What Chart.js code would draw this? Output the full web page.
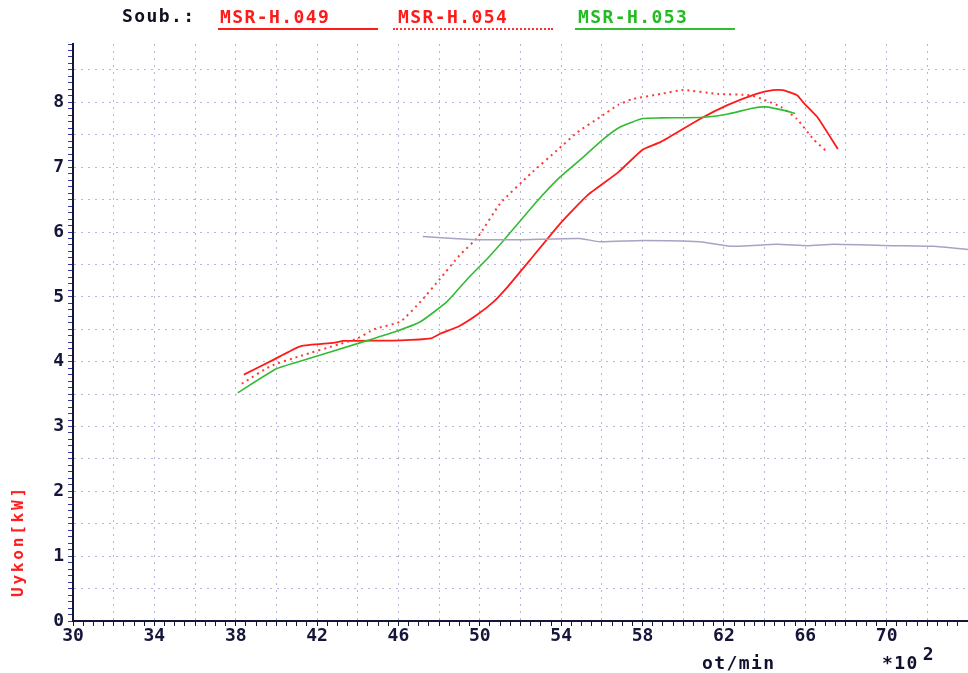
<!DOCTYPE html>
<html>
<head>
<meta charset="utf-8">
<script src="https://cdn.jsdelivr.net/npm/chart.js@4"></script>
<style>
  body { margin: 0; background: #fff; }
  #wrap { position: relative; width: 968px; height: 673px; overflow: hidden; }
  canvas { position: absolute; left: 0; top: 0; }
  .lbl { position: absolute; font-family: "DejaVu Sans Mono", monospace; font-weight: bold; font-size: 18px; letter-spacing: 1.4px; white-space: nowrap; line-height: 1; }
  .key { position: absolute; top: 28px; height: 0; }
</style>
</head>
<body>
<div id="wrap">
  <canvas id="powerChart" width="968" height="673"></canvas>
  <!-- legenda nahore -->
  <div class="lbl" style="left:122px; top:7px; color:#101020;">Soub.:</div>
  <div class="lbl" style="left:220px; top:8px; color:#ff1a1a;">MSR-H.049</div>
  <div class="key" style="left:218px; width:160px; border-top:2px solid #ff1a1a;"></div>
  <div class="lbl" style="left:398px; top:8px; color:#ff1a1a;">MSR-H.054</div>
  <div class="key" style="left:393px; width:160px; border-top:2px dotted #ff3030;"></div>
  <div class="lbl" style="left:578px; top:8px; color:#22bb22;">MSR-H.053</div>
  <div class="key" style="left:575px; width:160px; border-top:2px solid #33bb33;"></div>
  <!-- popisky os -->
  <div class="lbl" style="left:702px; top:654px; color:#101030;">ot/min</div>
  <div class="lbl" style="left:882px; top:654px; color:#101030;">*10<span style="position:relative; top:-9px; margin-left:4px;">2</span></div>
  <div class="lbl" style="left:18px; top:541px; color:#ff1a1a; font-size:16px; letter-spacing:2.8px; transform: translate(-50%, -50%) rotate(-90deg);">Uykon[kW]</div>
</div>
<script>
// otacky (x100 ot/min) a vykon (kW)
const rpm049 = [38.4, 39.8, 41.2, 42.8, 43.3, 46.1, 47.6, 48.05, 49.0, 49.9, 50.7, 51.3, 52.5, 53.95, 55.3, 56.8, 58.0, 58.9, 60.8, 62.2, 63.6, 64.4, 64.9, 65.6, 65.9, 66.6, 67.6];
const kw049  = [3.80, 4.02, 4.24, 4.29, 4.32, 4.33, 4.36, 4.43, 4.55, 4.73, 4.93, 5.13, 5.58, 6.13, 6.57, 6.92, 7.27, 7.39, 7.74, 7.96, 8.13, 8.19, 8.19, 8.11, 8.00, 7.77, 7.28];

const rpm054 = [38.3, 39.7, 41.2, 43.1, 44.0, 44.8, 46.1, 47.1, 48.05, 49.0, 49.9, 51.0, 52.5, 53.8, 54.8, 55.9, 56.8, 57.5, 58.9, 60.0, 61.7, 63.3, 63.9, 64.8, 65.6, 66.4, 67.1];
const kw054  = [3.66, 3.93, 4.09, 4.27, 4.36, 4.50, 4.62, 4.93, 5.28, 5.64, 5.92, 6.44, 6.90, 7.26, 7.54, 7.77, 7.96, 8.05, 8.13, 8.19, 8.13, 8.11, 8.05, 7.93, 7.74, 7.43, 7.23];

const rpm053 = [38.1, 40.0, 41.2, 44.1, 45.9, 47.1, 48.4, 49.4, 50.4, 51.2, 52.8, 53.95, 55.1, 56.1, 56.9, 58.0, 58.9, 61.0, 62.2, 63.4, 64.1, 64.9, 65.5];
const kw053  = [3.52, 3.89, 4.01, 4.29, 4.47, 4.62, 4.93, 5.28, 5.60, 5.88, 6.47, 6.85, 7.16, 7.44, 7.62, 7.75, 7.76, 7.77, 7.82, 7.91, 7.93, 7.88, 7.83];

// sedy prubeh bez legendy
const rpmGray = [47.2, 48.7, 50.0, 52.0, 54.9, 55.9, 58.0, 60.8, 62.3, 64.6, 66.1, 67.4, 70.3, 72.3, 74.0];
const kwGray  = [5.93, 5.90, 5.88, 5.88, 5.90, 5.85, 5.87, 5.85, 5.78, 5.81, 5.79, 5.81, 5.79, 5.78, 5.73];

const xMin = 30, xMax = 74, yMin = 0, yMax = 8.9;

function pts(xs, ys) {
    return xs.map((x, i) => ({ x: x, y: ys[i] }));
}

const gridColor = '#b8b4dc';
const axisColor = '#15153a';
const tickFont = { family: 'DejaVu Sans Mono', weight: 'bold', size: 18 };

const ctx = document.getElementById('powerChart').getContext('2d');
let powerChart = new Chart(ctx, {
    type: 'line',
    data: {
        datasets: [
            { label: 'gray', data: pts(rpmGray, kwGray), borderColor: '#a8a2c4', borderWidth: 1.5 },
            { label: 'MSR-H.053', data: pts(rpm053, kw053), borderColor: '#33bb33', borderWidth: 1.6 },
            { label: 'MSR-H.054', data: pts(rpm054, kw054), borderColor: '#ff3838', borderWidth: 2, borderDash: [2, 4] },
            { label: 'MSR-H.049', data: pts(rpm049, kw049), borderColor: '#ff1a1a', borderWidth: 1.8 }
        ]
    },
    options: {
        responsive: false,
        animation: false,
        layout: { padding: { top: 44, left: 0, right: 0, bottom: 0 } },
        elements: { point: { radius: 0 }, line: { tension: 0.15 } },
        plugins: { legend: { display: false }, tooltip: { enabled: false } },
        scales: {
            x: {
                type: 'linear',
                min: xMin,
                max: xMax,
                afterFit: (s) => { s.height = 52; },
                afterBuildTicks: (s) => {
                    const t = [];
                    for (let v = xMin * 2; v <= xMax * 2; v++) t.push({ value: v / 2 });
                    s.ticks = t;
                },
                ticks: {
                    autoSkip: false,
                    maxRotation: 0,
                    color: axisColor,
                    font: tickFont,
                    padding: 0,
                    callback: (v) => (v % 4 === 2 && v < 72) ? String(v) : ''
                },
                grid: {
                    color: (c) => (c.tick && c.tick.value % 2 === 0 && c.tick.value > xMin) ? gridColor : 'rgba(0,0,0,0)',
                    tickColor: axisColor,
                    tickLength: 5,
                    lineWidth: 1
                },
                border: { color: axisColor, width: 2, dash: [2, 5] }
            },
            y: {
                min: yMin,
                max: yMax,
                afterFit: (s) => { s.width = 73; },
                afterBuildTicks: (s) => {
                    const t = [];
                    for (let v = 0; v <= 89; v++) t.push({ value: v / 10 });
                    s.ticks = t;
                },
                ticks: {
                    autoSkip: false,
                    color: axisColor,
                    font: tickFont,
                    padding: 4,
                    callback: (v) => (Math.abs(v - Math.round(v)) < 1e-6) ? String(Math.round(v)) : ''
                },
                grid: {
                    color: (c) => {
                        if (!c.tick) return 'rgba(0,0,0,0)';
                        const k = Math.round(c.tick.value * 10);
                        return (k % 5 === 0 && k > 0) ? gridColor : 'rgba(0,0,0,0)';
                    },
                    tickColor: '#2a3aa0',
                    tickLength: 5,
                    lineWidth: 1
                },
                border: { color: axisColor, width: 2, dash: [2, 5] }
            }
        }
    }
});
</script>
</body>
</html>
